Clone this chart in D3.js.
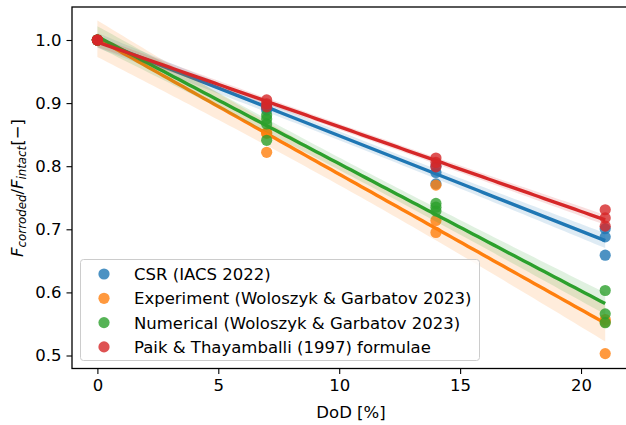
<!DOCTYPE html>
<html lang="en">
<head>
  <meta charset="UTF-8">
  <title>Corroded / intact strength vs DoD</title>
  <script src="https://d3js.org/d3.v7.min.js"></script>
  <style>
    body { margin: 0; background: #fff; }
    text { font-family: "DejaVu Sans", sans-serif; fill: #000; }
    .axis path, .axis line { stroke: #000; }
  </style>
</head>
<body>
  <svg id="chart"></svg>
  <script>
    // degree of degradation, one entry per measurement group
    const dod = [0, 7, 14, 21];

    // values, grouped by dod
    const csrValues = [[1.0, 1.0, 1.0], [0.897, 0.893, 0.889], [0.800, 0.790, 0.772], [0.701, 0.688, 0.659]];
    const experimentValues = [[1.0, 1.0, 1.0], [0.853, 0.852, 0.822], [0.770, 0.714, 0.695], [0.557, 0.553, 0.503]];
    const numericalValues = [[1.0, 1.0, 1.0], [0.881, 0.875, 0.867, 0.841], [0.741, 0.735, 0.729], [0.603, 0.566, 0.552]];
    const paikValues = [[1.0, 1.0, 1.0], [0.905, 0.899, 0.894], [0.813, 0.806, 0.799], [0.731, 0.718, 0.705]];

    const seriesNames = [
      "CSR (IACS 2022)",
      "Experiment (Woloszyk & Garbatov 2023)",
      "Numerical (Woloszyk & Garbatov 2023)",
      "Paik & Thayamballi (1997) formulae"
    ];
    const seriesColors = ["#1f77b4", "#ff7f0e", "#2ca02c", "#d62728"];
    const xTicks = [0, 5, 10, 15, 20];
    const yTicks = [0.5, 0.6, 0.7, 0.8, 0.9, 1.0];

    const W = 626, H = 425;
    const FS = "16.5px";
    const svg = d3.select("#chart").attr("width", W).attr("height", H);

    const x = d3.scaleLinear().domain([-1.05, 22.05]).range([72, 630.6]);
    const y = d3.scaleLinear().domain([0.4794, 1.0523]).range([368.5, 7]);

    const all = [csrValues, experimentValues, numericalValues, paikValues];

    // flatten to points
    function points(vals) {
      const pts = [];
      vals.forEach((g, i) => g.forEach(v => pts.push({ x: dod[i], y: v })));
      return pts;
    }

    // ordinary least squares with a 95% band of the mean
    function fit(pts) {
      const n = pts.length;
      const mx = d3.mean(pts, d => d.x), my = d3.mean(pts, d => d.y);
      const sxx = d3.sum(pts, d => (d.x - mx) ** 2);
      const sxy = d3.sum(pts, d => (d.x - mx) * (d.y - my));
      const b = sxy / sxx, a = my - b * mx;
      const sse = d3.sum(pts, d => (d.y - a - b * d.x) ** 2);
      const s = Math.sqrt(sse / (n - 2));
      const t = 2.1;
      const grid = d3.range(0, 21.001, 0.21);
      return grid.map(gx => {
        const yh = a + b * gx;
        const se = s * Math.sqrt(1 / n + (gx - mx) ** 2 / sxx);
        return { x: gx, y: yh, lo: yh - t * se, hi: yh + t * se };
      });
    }

    const plot = svg.append("g");
    plot.append("clipPath").attr("id", "clip")
      .append("rect").attr("x", 72).attr("y", 7).attr("width", 560).attr("height", 361.5);
    const inner = plot.append("g").attr("clip-path", "url(#clip)");

    all.forEach((vals, i) => {
      const pts = points(vals);
      const line = fit(pts);
      const g = inner.append("g");

      g.selectAll("circle").data(pts).enter().append("circle")
        .attr("cx", d => x(d.x)).attr("cy", d => y(d.y)).attr("r", 5.6)
        .attr("fill", seriesColors[i]).attr("fill-opacity", 0.8);

      g.append("path").datum(line)
        .attr("fill", seriesColors[i]).attr("fill-opacity", 0.15)
        .attr("d", d3.area().x(d => x(d.x)).y0(d => y(d.lo)).y1(d => y(d.hi)));

      g.append("path").datum(line)
        .attr("fill", "none").attr("stroke", seriesColors[i]).attr("stroke-width", 3.4)
        .attr("d", d3.line().x(d => x(d.x)).y(d => y(d.y)));
    });

    // axes
    const xAxis = svg.append("g").attr("class", "axis")
      .attr("transform", "translate(0,368.5)")
      .call(d3.axisBottom(x).tickValues(xTicks).tickSize(5.5).tickPadding(5).tickFormat(d3.format("d")));
    xAxis.select(".domain").remove();
    const yAxis = svg.append("g").attr("class", "axis")
      .attr("transform", "translate(72,0)")
      .call(d3.axisLeft(y).tickValues(yTicks).tickSize(5.5).tickPadding(5).tickFormat(d3.format(".1f")));
    yAxis.select(".domain").remove();
    svg.selectAll(".axis text").style("font-size", FS).style("font-family", "DejaVu Sans");
    svg.selectAll(".axis line").attr("stroke-width", 1.1);

    // spines
    svg.append("rect").attr("x", 72).attr("y", 7).attr("width", 560).attr("height", 361.5)
      .attr("fill", "none").attr("stroke", "#000").attr("stroke-width", 1.3);

    // axis labels
    svg.append("text").attr("x", 351).attr("y", 418).attr("text-anchor", "middle")
      .style("font-size", FS).text("DoD [%]");

    const yl = svg.append("text").attr("transform", "translate(23,188) rotate(-90)")
      .attr("text-anchor", "middle").style("font-size", FS);
    yl.append("tspan").style("font-style", "italic").text("F");
    yl.append("tspan").style("font-style", "italic").style("font-size", "11.8px").attr("dy", 3).text("corroded");
    yl.append("tspan").attr("dy", -3).text("/");
    yl.append("tspan").style("font-style", "italic").text("F");
    yl.append("tspan").style("font-style", "italic").style("font-size", "11.8px").attr("dy", 3).text("intact");
    yl.append("tspan").attr("dy", -3).text("[\u2212]");

    // legend
    const lg = svg.append("g");
    lg.append("rect").attr("x", 80.5).attr("y", 259.5).attr("width", 399).attr("height", 101)
      .attr("rx", 3).attr("fill", "#fff").attr("fill-opacity", 0.8)
      .attr("stroke", "#ccc").attr("stroke-width", 1);
    seriesNames.forEach((name, i) => {
      const ly = 274 + i * 24.3;
      lg.append("circle").attr("cx", 104).attr("cy", ly).attr("r", 5.6)
        .attr("fill", seriesColors[i]).attr("fill-opacity", 0.8);
      lg.append("text").attr("x", 134).attr("y", ly).attr("dy", "0.36em")
        .style("font-size", FS).text(name);
    });
  </script>
</body>
</html>
